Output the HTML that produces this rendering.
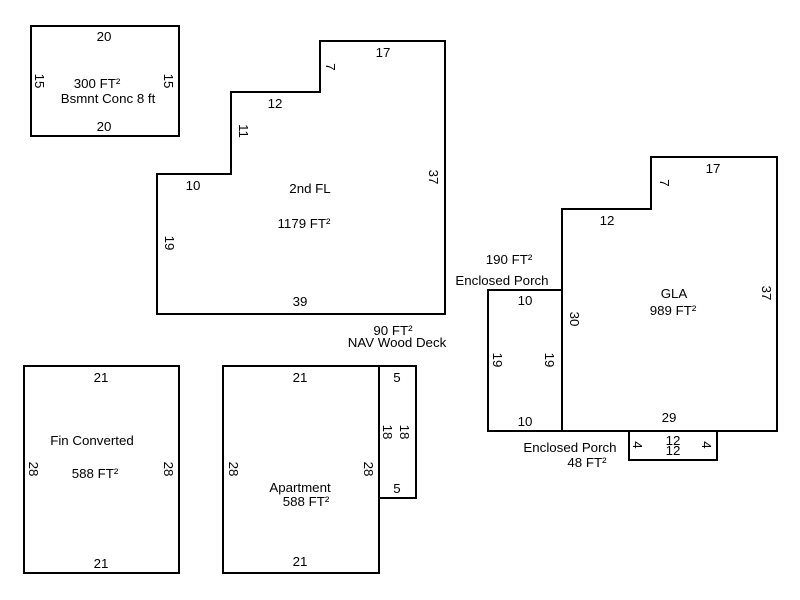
<!DOCTYPE html>
<html><head><style>body{margin:0;background:#fff}svg{display:block}text{font-family:"Liberation Sans",Arial,sans-serif;font-size:13.3px;fill:#000}</style></head><body>
<svg width="800" height="600" viewBox="0 0 800 600">
<g fill="none" stroke="#000" stroke-width="2">
<rect x="31" y="26" width="148" height="110"/>
<polygon points="157,174 157,314 445,314 445,41 320,41 320,92 231,92 231,174"/>
<polygon points="562,209 651,209 651,157 777,157 777,431 562,431"/>
<rect x="488" y="290" width="74" height="141"/>
<rect x="629" y="431" width="88" height="29"/>
<rect x="24" y="366" width="155" height="207"/>
<rect x="223" y="366" width="156" height="207"/>
<rect x="379" y="366" width="37" height="132"/>
</g>
<g text-anchor="middle">
<text x="104" y="41">20</text>
<text x="104" y="131">20</text>
<text x="97" y="88">300 FT²</text>
<text x="108" y="103">Bsmnt Conc 8 ft</text>
<text transform="translate(35,81) rotate(90)">15</text>
<text transform="translate(164,81) rotate(90)">15</text>
<text x="383" y="57">17</text>
<text transform="translate(326,67) rotate(90)">7</text>
<text x="275" y="108">12</text>
<text transform="translate(239,131) rotate(90)">11</text>
<text x="193" y="190">10</text>
<text transform="translate(165,243) rotate(90)">19</text>
<text transform="translate(429,177) rotate(90)">37</text>
<text x="300" y="306">39</text>
<text x="310" y="193">2nd FL</text>
<text x="304" y="228">1179 FT²</text>
<text x="393" y="335">90 FT²</text>
<text x="397" y="347">NAV Wood Deck</text>
<text x="713" y="173">17</text>
<text transform="translate(660,183) rotate(90)">7</text>
<text x="607" y="225">12</text>
<text transform="translate(570,319) rotate(90)">30</text>
<text transform="translate(762,293) rotate(90)">37</text>
<text x="674" y="298">GLA</text>
<text x="673" y="315">989 FT²</text>
<text x="669" y="422">29</text>
<text x="509" y="264">190 FT²</text>
<text x="502" y="285">Enclosed Porch</text>
<text x="525" y="305">10</text>
<text x="525" y="426">10</text>
<text transform="translate(493,360) rotate(90)">19</text>
<text transform="translate(545,360) rotate(90)">19</text>
<text x="570" y="452">Enclosed Porch</text>
<text x="587" y="467">48 FT²</text>
<text x="673" y="445">12</text>
<text x="673" y="455">12</text>
<text transform="translate(633,445) rotate(90)">4</text>
<text transform="translate(702,445) rotate(90)">4</text>
<text x="101" y="382">21</text>
<text x="101" y="568">21</text>
<text x="92" y="445">Fin Converted</text>
<text x="95" y="478">588 FT²</text>
<text transform="translate(29,469) rotate(90)">28</text>
<text transform="translate(164,469) rotate(90)">28</text>
<text x="300" y="382">21</text>
<text x="300" y="566">21</text>
<text x="300" y="492">Apartment</text>
<text x="306" y="506">588 FT²</text>
<text transform="translate(229,469) rotate(90)">28</text>
<text transform="translate(364,469) rotate(90)">28</text>
<text x="397" y="382">5</text>
<text x="397" y="493">5</text>
<text transform="translate(383,432) rotate(90)">18</text>
<text transform="translate(400,432) rotate(90)">18</text>
</g>
</svg>
</body></html>
